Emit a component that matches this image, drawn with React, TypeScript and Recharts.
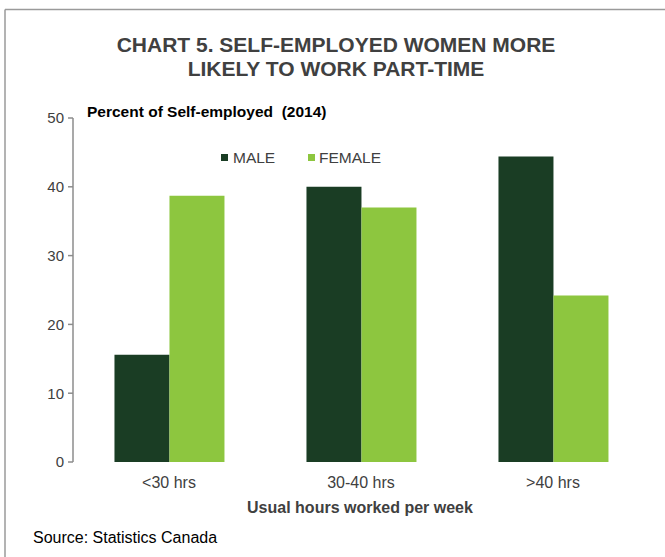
import React from 'react';
import { BarChart, Bar, XAxis, YAxis } from 'recharts';

const categories = ['<30 hrs', '30-40 hrs', '>40 hrs'];
const maleValues = [15.6, 40.0, 44.4];
const femaleValues = [38.7, 37.0, 24.2];
const yTicks = [0, 10, 20, 30, 40, 50];
const boundaryTicks = [0, 1, 2, 3];

const data = categories.map((c, i) => ({ cat: c, male: maleValues[i], female: femaleValues[i] }));

const FONT = '"Liberation Sans", Arial, sans-serif';
const TEXT = '#404040';
const AXIS = '#8c8c8c';
const MALE = '#1a3d24';
const FEMALE = '#8dc63f';

export default function App() {
  return (
    <div style={{ position: 'absolute', left: 0, top: 0, width: 665, height: 557, background: '#fff', fontFamily: FONT }}>
      <BarChart
        width={665}
        height={557}
        data={data}
        margin={{ top: 118, right: 16, bottom: 65, left: 33 }}
        barCategoryGap="21.6%"
        barGap={0}
      >
        <XAxis
          xAxisId="grid"
          type="number"
          domain={[0, 3]}
          ticks={boundaryTicks}
          tick={false}
          height={0}
          axisLine={{ stroke: AXIS, strokeWidth: 1.5 }}
          tickLine={{ stroke: AXIS, strokeWidth: 1.5 }}
          tickSize={5}
          allowDataOverflow
        />
        <XAxis
          dataKey="cat"
          axisLine={false}
          tickLine={false}
          height={30}
          tick={{ fill: TEXT, fontSize: 16, fontFamily: FONT }}
          tickMargin={9}
        />
        <YAxis
          width={40}
          domain={[0, 50]}
          ticks={yTicks}
          interval={0}
          axisLine={{ stroke: AXIS, strokeWidth: 1.5 }}
          tickLine={{ stroke: AXIS, strokeWidth: 1.5 }}
          tickSize={5}
          tickMargin={4}
          tick={{ fill: TEXT, fontSize: 15, fontFamily: FONT }}
        />
        <Bar dataKey="male" fill={MALE} isAnimationActive={false} />
        <Bar dataKey="female" fill={FEMALE} isAnimationActive={false} />
      </BarChart>
      <svg width={665} height={557} style={{ position: 'absolute', left: 0, top: 0, pointerEvents: 'none' }}>
        <line x1={5} y1={9.5} x2={665} y2={9.5} stroke="#9a9a9a" strokeWidth={1.5} />
        <line x1={5} y1={9.5} x2={5} y2={557} stroke="#9a9a9a" strokeWidth={1.5} />
        <text x={336} y={52} textAnchor="middle" fontFamily={FONT} fontWeight="bold" fontSize={21} fill={TEXT}>CHART 5. SELF-EMPLOYED WOMEN MORE</text>
        <text x={336} y={76} textAnchor="middle" fontFamily={FONT} fontWeight="bold" fontSize={21} fill={TEXT}>LIKELY TO WORK PART-TIME</text>
        <text x={87} y={117} fontFamily={FONT} fontWeight="bold" fontSize={15.5} fill="#000" style={{ whiteSpace: 'pre' }}>Percent of Self-employed  (2014)</text>
        <rect x={221} y={154} width={7} height={7} fill={MALE} />
        <text x={233} y={163} fontFamily={FONT} fontSize={15.5} fill={TEXT}>MALE</text>
        <rect x={308} y={154} width={7} height={7} fill={FEMALE} />
        <text x={319} y={163} fontFamily={FONT} fontSize={15.5} fill={TEXT}>FEMALE</text>
        <text x={360} y={513} textAnchor="middle" fontFamily={FONT} fontWeight="bold" fontSize={16} fill={TEXT}>Usual hours worked per week</text>
        <text x={33} y={543} fontFamily={FONT} fontSize={16} fill="#000">Source: Statistics Canada</text>
      </svg>
    </div>
  );
}
